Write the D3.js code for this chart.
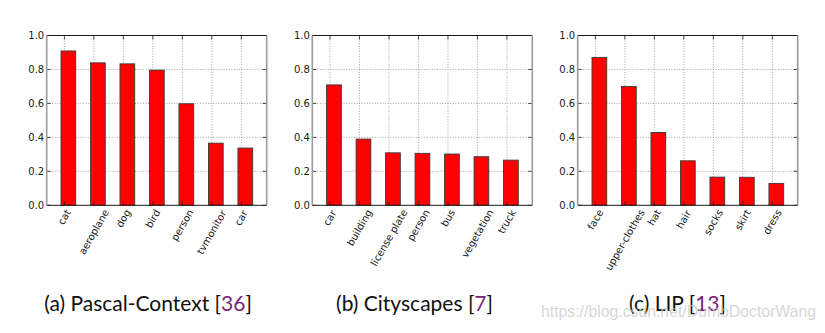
<!DOCTYPE html>
<html><head><meta charset="utf-8">
<script src="https://cdn.jsdelivr.net/npm/d3@7"></script>
<style>
html,body{margin:0;padding:0;background:#fff;}
svg{display:block;}
</style>
</head><body>
<svg id="chart" width="825" height="333"></svg>
<script>
// ---- data ----
const pascalCategories = ["cat","aeroplane","dog","bird","person","tvmonitor","car"];
const pascalValues     = [0.909, 0.839, 0.833, 0.796, 0.598, 0.366, 0.337];
const cityCategories   = ["car","building","license plate","person","bus","vegetation","truck"];
const cityValues       = [0.709, 0.390, 0.309, 0.306, 0.302, 0.286, 0.266];
const lipCategories    = ["face","upper-clothes","hat","hair","socks","skirt","dress"];
const lipValues        = [0.871, 0.700, 0.429, 0.262, 0.166, 0.165, 0.129];
const yTicks = [0.0, 0.2, 0.4, 0.6, 0.8, 1.0];
const captionLabels = ["(a) Pascal-Context ", "(b) Cityscapes ", "(c) LIP "];
const captionRefs   = ["36", "7", "13"];
const watermark = "https://blog.csdn.net/DumbDoctorWang";

(function () {
const panels = [
  {cats: pascalCategories, vals: pascalValues, left: 46.7, cx: 148},
  {cats: cityCategories,   vals: cityValues,   left: 312.3, cx: 414.5},
  {cats: lipCategories,    vals: lipValues,    left: 577.7, cx: 677.5}
];

const svg = d3.select("#chart");
const W = 220, plotTop = 35.5, plotBottom = 205.3;
const y = d3.scaleLinear().domain([0, 1]).range([plotBottom, plotTop]);

panels.forEach((p, pi) => {
  const g = svg.append("g");
  const x = d3.scaleLinear().domain([-0.6, 6.86]).range([p.left, p.left + W]);
  const idx = d3.range(p.cats.length);

  // grid
  g.selectAll("line.hg").data(yTicks.filter(t => t > 0 && t < 1)).join("line")
    .attr("x1", p.left).attr("x2", p.left + W)
    .attr("y1", d => y(d)).attr("y2", d => y(d))
    .attr("stroke", "#8c8c8c").attr("stroke-width", 0.8).attr("stroke-dasharray", "1,1.6");
  g.selectAll("line.vg").data(idx).join("line")
    .attr("x1", d => x(d)).attr("x2", d => x(d))
    .attr("y1", plotTop).attr("y2", plotBottom)
    .attr("stroke", "#8c8c8c").attr("stroke-width", 0.8).attr("stroke-dasharray", "1,1.6");

  // bars
  g.selectAll("rect.bar").data(idx).join("rect")
    .attr("x", d => x(d - 0.115))
    .attr("width", d => x(d + 0.385) - x(d - 0.115))
    .attr("y", d => y(p.vals[d]))
    .attr("height", d => y(0) - y(p.vals[d]))
    .attr("fill", "#ff0000").attr("stroke", "#3a3a3a").attr("stroke-width", 0.9);

  // inward ticks
  const tl = 4;
  yTicks.forEach(t => {
    g.append("line").attr("x1", p.left).attr("x2", p.left + tl).attr("y1", y(t)).attr("y2", y(t)).attr("stroke", "#222").attr("stroke-width", 0.8);
    g.append("line").attr("x1", p.left + W - tl).attr("x2", p.left + W).attr("y1", y(t)).attr("y2", y(t)).attr("stroke", "#222").attr("stroke-width", 0.8);
  });
  idx.forEach(i => {
    g.append("line").attr("x1", x(i)).attr("x2", x(i)).attr("y1", plotTop).attr("y2", plotTop + tl).attr("stroke", "#222").attr("stroke-width", 0.8);
    g.append("line").attr("x1", x(i)).attr("x2", x(i)).attr("y1", plotBottom - tl).attr("y2", plotBottom).attr("stroke", "#222").attr("stroke-width", 0.8);
  });

  // frame
  g.append("line").attr("x1", p.left).attr("x2", p.left + W).attr("y1", plotTop).attr("y2", plotTop).attr("stroke", "#1a1a1a").attr("stroke-width", 1);
  g.append("line").attr("x1", p.left).attr("x2", p.left + W).attr("y1", plotBottom).attr("y2", plotBottom).attr("stroke", "#1a1a1a").attr("stroke-width", 1);
  g.append("line").attr("x1", p.left).attr("x2", p.left).attr("y1", plotTop).attr("y2", plotBottom).attr("stroke", "#9a9a9a").attr("stroke-width", 1.6);
  g.append("line").attr("x1", p.left + W).attr("x2", p.left + W).attr("y1", plotTop).attr("y2", plotBottom).attr("stroke", "#9a9a9a").attr("stroke-width", 1.6);

  // y labels
  g.selectAll("text.yl").data(yTicks).join("text")
    .attr("x", p.left - 2.5).attr("y", d => y(d)).attr("dy", "0.36em")
    .attr("text-anchor", "end")
    .attr("font-family", "DejaVu Sans").attr("font-size", 10).attr("fill", "#1a1a1a")
    .text(d => d.toFixed(1));

  // x labels rotated 60deg, bbox centered on tick
  idx.forEach(i => {
    const t = g.append("text")
      .attr("font-family", "DejaVu Sans").attr("font-size", 10).attr("fill", "#1a1a1a")
      .text(p.cats[i]);
    const bb = t.node().getBBox();
    const a = -60 * Math.PI / 180, c = Math.cos(a), s = Math.sin(a);
    const pts = [[bb.x, bb.y], [bb.x + bb.width, bb.y], [bb.x, bb.y + bb.height], [bb.x + bb.width, bb.y + bb.height]]
      .map(([px, py]) => [px * c - py * s, px * s + py * c]);
    const minX = d3.min(pts, q => q[0]), maxX = d3.max(pts, q => q[0]), minY = d3.min(pts, q => q[1]);
    const tx = x(i) - (minX + maxX) / 2, ty = plotBottom + 2.2 - minY;
    t.attr("transform", `translate(${tx},${ty}) rotate(-60)`);
  });

  // caption
  const cap = svg.append("text")
    .attr("x", p.cx).attr("y", 310.5).attr("text-anchor", "middle")
    .attr("font-family", "Lato").attr("font-size", 21).attr("fill", "#111");
  cap.append("tspan").text(captionLabels[pi] + "[");
  cap.append("tspan").attr("fill", "#7a1f7a").text(captionRefs[pi]);
  cap.append("tspan").text("]");
});

// watermark
svg.append("text")
  .attr("x", 541).attr("y", 316.5)
  .attr("font-family", "Liberation Sans").attr("font-size", 16.5)
  .attr("fill", "#c8c8c8").attr("fill-opacity", 0.75)
  .attr("textLength", 275).attr("lengthAdjust", "spacingAndGlyphs")
  .text(watermark);
})();
</script>
</body></html>
